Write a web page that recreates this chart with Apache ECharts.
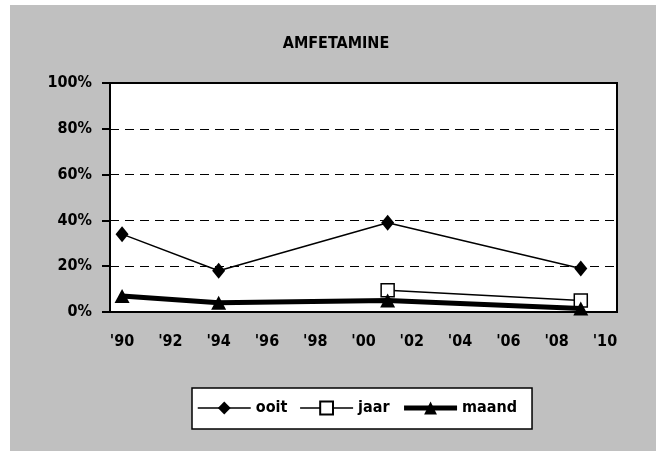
<!DOCTYPE html>
<html>
<head>
<meta charset="utf-8">
<script src="https://cdn.jsdelivr.net/npm/echarts@6/dist/echarts.min.js"></script>
<style>
  html, body { margin: 0; padding: 0; background: #ffffff; }
  #frame { position: absolute; left: 10px; top: 5px; width: 646px; height: 446px; background: #c0c0c0; }
  #chart { position: absolute; left: 0; top: 0; width: 656px; height: 451px; }
</style>
</head>
<body>
<div id="frame"></div>
<div id="chart"></div>
<script>
// Survey years on the horizontal axis (one slot per year, labelled every other year)
const years = ["'90", "'91", "'92", "'93", "'94", "'95", "'96", "'97", "'98", "'99", "'00",
               "'01", "'02", "'03", "'04", "'05", "'06", "'07", "'08", "'09", "'10"];

// Prevalence of amphetamine use, in percent
const ooitYears  = ["'90", "'94", "'01", "'09"];
const ooitValues = [34, 18, 39, 19];

const jaarYears  = ["'01", "'09"];
const jaarValues = [9.5, 5];

const maandYears  = ["'90", "'94", "'01", "'09"];
const maandValues = [7, 4, 5, 1.5];

const yTicks = [0, 20, 40, 60, 80, 100];

const FONT = "'DejaVu Sans Condensed', 'DejaVu Sans', sans-serif";

function pairs(xs, vs) { return xs.map((x, i) => [x, vs[i]]); }

const chart = echarts.init(document.getElementById('chart'), null, { renderer: 'canvas' });

chart.setOption({
  backgroundColor: 'transparent',
  animation: false,
  graphic: [{
    type: 'text',
    x: 336, y: 36,
    style: { text: 'AMFETAMINE', fill: '#000', font: 'bold 16px ' + FONT, textAlign: 'center' }
  }],
  grid: {
    left: 110, right: 39, top: 83, bottom: 139,
    show: true, backgroundColor: '#ffffff', borderColor: '#000', borderWidth: 2
  },
  xAxis: {
    type: 'category',
    data: years,
    boundaryGap: true,
    axisLine: { lineStyle: { color: '#000', width: 2 } },
    axisTick: { interval: 0, length: 6, lineStyle: { color: '#000', width: 2 } },
    axisLabel: { interval: 1, margin: 22, color: '#000', fontFamily: FONT, fontWeight: 'bold', fontSize: 16 },
    splitLine: { show: false }
  },
  yAxis: {
    type: 'value',
    min: yTicks[0], max: yTicks[yTicks.length - 1], interval: 20,
    axisLine: { show: true, lineStyle: { color: '#000', width: 2 } },
    axisTick: { show: true, length: 8, lineStyle: { color: '#000', width: 2 } },
    axisLabel: { margin: 18, color: '#000', fontFamily: FONT, fontWeight: 'bold', fontSize: 16, formatter: '{value}%' },
    splitLine: { show: true, lineStyle: { color: '#000', width: 1, type: [9, 6] } }
  },
  legend: {
    left: 192, top: 388,
    padding: [12, 15, 13, 5],
    backgroundColor: '#ffffff', borderColor: '#000', borderWidth: 1.5, borderRadius: 0,
    itemWidth: 53, itemHeight: 16, itemGap: 12,
    textStyle: { color: '#000', fontFamily: FONT, fontWeight: 'bold', fontSize: 16 },
    data: [
      { name: 'ooit', lineStyle: { width: 1.5 } },
      { name: 'jaar', lineStyle: { width: 1.5 } },
      { name: 'maand', lineStyle: { width: 5 } }
    ]
  },
  series: [
    {
      name: 'ooit', type: 'line',
      data: pairs(ooitYears, ooitValues),
      symbol: 'diamond', symbolSize: [13, 16],
      lineStyle: { color: '#000', width: 1.5 },
      itemStyle: { color: '#000', borderColor: '#000', borderWidth: 0 },
      z: 3
    },
    {
      name: 'jaar', type: 'line',
      data: pairs(jaarYears, jaarValues),
      symbol: 'rect', symbolSize: 13,
      lineStyle: { color: '#000', width: 1.5 },
      itemStyle: { color: '#ffffff', borderColor: '#000', borderWidth: 1.5 },
      z: 4
    },
    {
      name: 'maand', type: 'line',
      data: pairs(maandYears, maandValues),
      symbol: 'triangle', symbolSize: [15, 14],
      lineStyle: { color: '#000', width: 5 },
      itemStyle: { color: '#000', borderColor: '#000', borderWidth: 0 },
      z: 5
    }
  ]
});
</script>
</body>
</html>
